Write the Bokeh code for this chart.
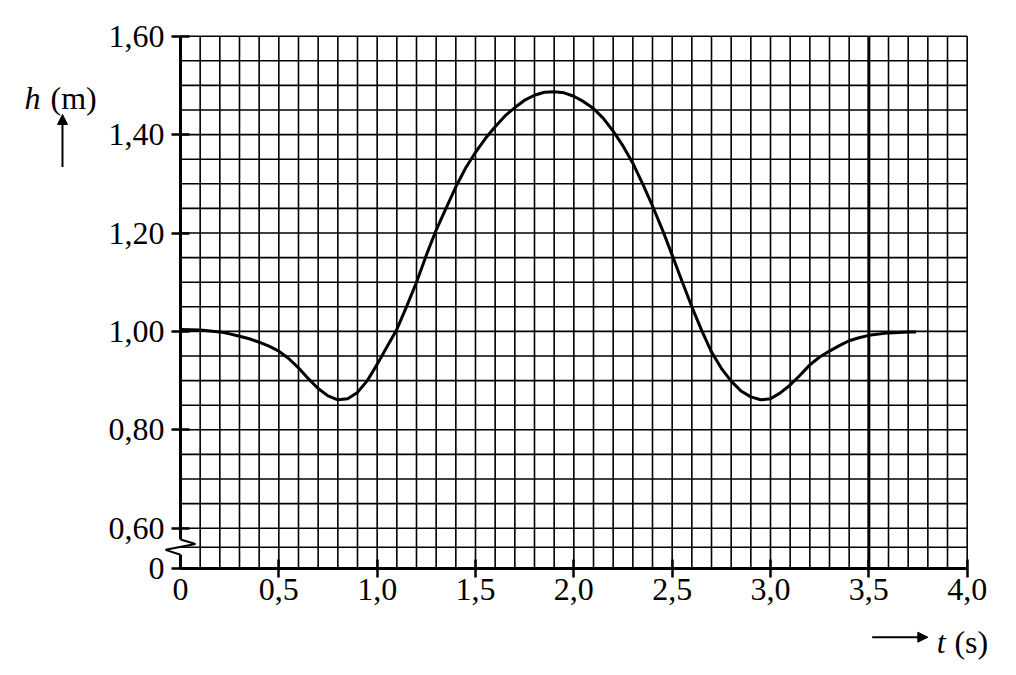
from bokeh.plotting import figure
from bokeh.models import FixedTicker, Label, Arrow, NormalHead
from bokeh.embed import file_html
from bokeh.resources import INLINE

# ---- data ----
t_s = [0, 0.1, 0.2, 0.25, 0.3, 0.35, 0.4, 0.45, 0.5, 0.55, 0.6, 0.65, 0.7, 0.75, 0.8,
       0.85, 0.9, 0.95, 1.0, 1.05, 1.1, 1.15, 1.2, 1.25, 1.3, 1.35, 1.4, 1.45, 1.5,
       1.55, 1.6, 1.65, 1.7, 1.75, 1.8, 1.85, 1.9, 1.95, 2.0, 2.05, 2.1, 2.15, 2.2,
       2.25, 2.3, 2.35, 2.4, 2.45, 2.5, 2.55, 2.6, 2.65, 2.7, 2.75, 2.8, 2.85, 2.9,
       2.95, 3.0, 3.05, 3.1, 3.15, 3.2, 3.25, 3.3, 3.35, 3.4, 3.45, 3.5, 3.6, 3.7, 3.74]
h_m = [1.004, 1.003, 0.999, 0.995, 0.990, 0.985, 0.978, 0.970, 0.960, 0.945, 0.926,
       0.904, 0.884, 0.869, 0.861, 0.863, 0.876, 0.900, 0.933, 0.969, 1.004, 1.051,
       1.100, 1.155, 1.206, 1.250, 1.294, 1.332, 1.364, 1.392, 1.416, 1.438, 1.455,
       1.470, 1.480, 1.486, 1.487, 1.485, 1.478, 1.467, 1.453, 1.433, 1.407, 1.377,
       1.342, 1.300, 1.255, 1.207, 1.155, 1.102, 1.050, 1.002, 0.958, 0.925, 0.899,
       0.879, 0.867, 0.861, 0.863, 0.875, 0.891, 0.911, 0.932, 0.948, 0.960, 0.971,
       0.981, 0.987, 0.992, 0.997, 0.999, 0.999]

x_ticks = [0.5, 1.0, 1.5, 2.0, 2.5, 3.0, 3.5, 4.0]
x_tick_labels = ["0,5", "1,0", "1,5", "2,0", "2,5", "3,0", "3,5", "4,0"]
Y_ZERO = 0.5187          # where the broken axis shows "0"
y_ticks = [Y_ZERO, 0.60, 0.80, 1.00, 1.20, 1.40, 1.60]
y_tick_labels = ["0", "0,60", "0,80", "1,00", "1,20", "1,40", "1,60"]

x_grid = [0.1, 0.2, 0.3, 0.4, 0.5, 0.6, 0.7, 0.8, 0.9, 1.0, 1.1, 1.2, 1.3, 1.4, 1.5,
          1.6, 1.7, 1.8, 1.9, 2.0, 2.1, 2.2, 2.3, 2.4, 2.5, 2.6, 2.7, 2.8, 2.9, 3.0,
          3.1, 3.2, 3.3, 3.4, 3.5, 3.6, 3.7, 3.8, 3.9, 4.0]
Y_BREAK_LINE = 0.5614    # grid line inside the broken part
y_grid = [Y_BREAK_LINE, 0.60, 0.65, 0.70, 0.75, 0.80, 0.85, 0.90, 0.95, 1.00, 1.05,
          1.10, 1.15, 1.20, 1.25, 1.30, 1.35, 1.40, 1.45, 1.50, 1.55, 1.60]

X_MIN, X_MAX = 0.0, 4.0
Y_MAX = 1.60
FONT = "Liberation Serif"
FS = "32px"

# the frame covers the whole canvas; the axes sit at fixed data locations
p = figure(width=1016, height=675, x_range=(-0.9152, 4.2508), y_range=(0.3006, 1.6726),
           output_backend="svg", toolbar_location=None, min_border=0)
p.outline_line_color = None
p.xgrid.visible = False
p.ygrid.visible = False

# grid
n_x, n_y = len(x_grid), len(y_grid)
p.segment(x0=x_grid, y0=[Y_ZERO] * n_x, x1=x_grid, y1=[Y_MAX] * n_x,
          line_color="black", line_width=1.6)
p.segment(x0=[X_MIN] * n_y, y0=y_grid, x1=[X_MAX] * n_y, y1=y_grid,
          line_color="black", line_width=1.6)
p.segment(x0=[3.5], y0=[Y_ZERO], x1=[3.5], y1=[Y_MAX], line_color="black", line_width=3)

# y axis line with break symbol
p.segment(x0=[0, 0], y0=[Y_MAX, 0.546], x1=[0, 0], y1=[0.577, Y_ZERO],
          line_color="black", line_width=3)
p.line([0, 0.076, -0.076, 0], [0.577, 0.568, 0.556, 0.546], line_color="black", line_width=2)

# curve
p.line(t_s, h_m, line_color="black", line_width=3, line_join="round")

# axes
xa = p.xaxis[0]
xa.fixed_location = Y_ZERO
xa.bounds = (X_MIN, X_MAX)
xa.ticker = FixedTicker(ticks=x_ticks, minor_ticks=[])
xa.major_label_overrides = dict(zip(x_ticks, x_tick_labels))
xa.axis_line_width = 3
xa.axis_line_color = "black"
xa.major_tick_in = 9
xa.major_tick_out = 9
xa.major_tick_line_width = 2.5
xa.major_tick_line_color = "black"
xa.minor_tick_line_color = None
xa.major_label_text_font = FONT
xa.major_label_text_font_size = FS
xa.major_label_text_color = "black"
xa.major_label_standoff = 2

ya = p.yaxis[0]
ya.fixed_location = 0
ya.ticker = FixedTicker(ticks=y_ticks, minor_ticks=[])
ya.major_label_overrides = dict(zip(y_ticks, y_tick_labels))
ya.axis_line_color = None
ya.major_tick_in = 9
ya.major_tick_out = 9
ya.major_tick_line_width = 2.5
ya.major_tick_line_color = "black"
ya.minor_tick_line_color = None
ya.major_label_text_font = FONT
ya.major_label_text_font_size = FS
ya.major_label_text_color = "black"
ya.major_label_standoff = 7

# "0" on the time axis
p.add_layout(Label(x=0, y=Y_ZERO, text="0", text_font=FONT, text_font_size=FS,
                   text_align="center", text_baseline="top", y_offset=-11,
                   text_color="black"))

# axis titles with arrows
p.add_layout(Label(x=-0.793, y=1.4735, text="h", text_font=FONT, text_font_style="italic",
                   text_font_size=FS, text_baseline="alphabetic", text_color="black"))
p.add_layout(Label(x=-0.661, y=1.4735, text="(m)", text_font=FONT,
                   text_font_size=FS, text_baseline="alphabetic", text_color="black"))
p.line([-0.6, -0.6], [1.334, 1.425], line_color="black", line_width=2)
p.add_layout(Arrow(end=NormalHead(size=10, fill_color="black", line_color="black", line_width=1),
                   x_start=-0.6, y_start=1.42, x_end=-0.6, y_end=1.441,
                   line_color="black", line_width=2))

p.add_layout(Label(x=3.845, y=0.3683, text="t", text_font=FONT, text_font_style="italic",
                   text_font_size=FS, text_baseline="alphabetic", text_color="black"))
p.add_layout(Label(x=3.935, y=0.3683, text="(s)", text_font=FONT,
                   text_font_size=FS, text_baseline="alphabetic", text_color="black"))
p.line([3.517, 3.78], [0.3785, 0.3785], line_color="black", line_width=2)
p.add_layout(Arrow(end=NormalHead(size=10, fill_color="black", line_color="black", line_width=1),
                   x_start=3.76, y_start=0.3785, x_end=3.800, y_end=0.3785,
                   line_color="black", line_width=2))

open("out.html", "w").write(file_html(p, INLINE))
